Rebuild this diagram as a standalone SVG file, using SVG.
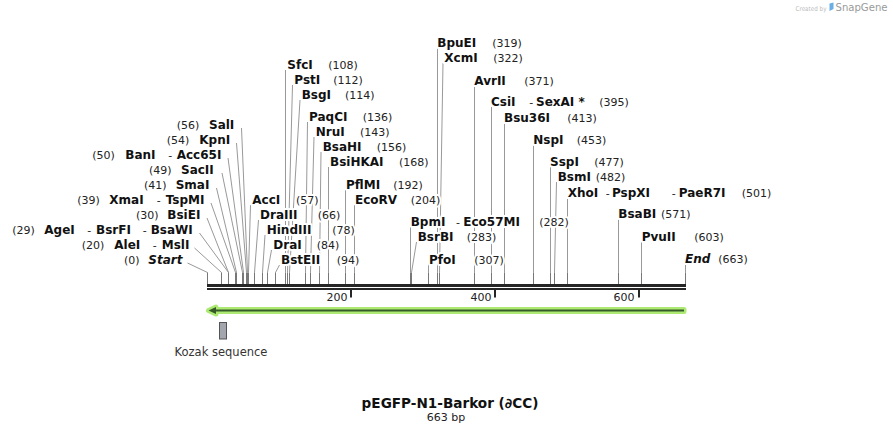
<svg xmlns="http://www.w3.org/2000/svg" width="893" height="434" viewBox="0 0 893 434">
<style>
text{font-family:"DejaVu Sans",Verdana,sans-serif}
.l{paint-order:stroke;stroke:#fff;stroke-width:4px;stroke-linejoin:round}
.b{font-weight:bold;font-size:12px;fill:#111}
.i{font-weight:bold;font-style:italic;font-size:12px;fill:#111}
.n{font-size:11px;fill:#222}
.c{fill:none;stroke:#999;stroke-width:1}
.t{fill:none;stroke:#777;stroke-width:1}
.bar{fill:#262626}
.tk{fill:#262626}
.rl{font-size:11px;fill:#222;text-anchor:end}
</style>
<rect width="893" height="434" fill="#fff"/>

<g id="connectors">
<path class="c" d="M241.5,128L247.5,272.5M236.5,143L246.5,272.5M228,158L243.5,272.5M222,173L242.5,272.5M216.5,188L236.5,272.5M211,203L235.5,272.5M207,218L228.5,272.5M199.5,233L228.5,272.5M194.5,248L221.5,272.5M187.5,263L207.5,272.5"/>
<path class="c" d="M250.5,205L248.5,272.5M258.5,220L254.5,272.5M265,235L262.5,272.5M271.5,250L267.5,272.5M279.5,265L275.5,272.5M285.5,70V272.5M292.5,85L287.5,272.5M300,100L289.5,272.5M307.5,122L305.5,272.5M314,137L310.5,272.5M321,152L319.5,272.5M328.5,167V272.5M345.5,190V272.5M354.5,205V272.5"/>
<path class="c" d="M410.5,227V272.5M416.5,242L411.5,272.5M428.5,264.5V272.5M437.5,48V272.5M443,63L439.5,272.5M474.5,86V272.5M491.5,107V272.5M504.5,122.5V272.5M533.5,145V272.5M550.5,167V272.5M556.5,182L554.5,272.5M567.5,197.5V272.5M618.5,218.5V272.5M641.5,242V272.5M685.5,263.5V272.5"/>
<path class="t" d="M207.5,272.5V284M221.5,272.5V284M228.5,272.5V284M235.5,272.5V284M236.5,272.5V284M242.5,272.5V284M243.5,272.5V284M246.5,272.5V284M247.5,272.5V284M248.5,272.5V284M254.5,272.5V284M262.5,272.5V284M267.5,272.5V284M275.5,272.5V284M285.5,272.5V284M287.5,272.5V284M289.5,272.5V284M305.5,272.5V284M310.5,272.5V284M319.5,272.5V284M328.5,272.5V284M345.5,272.5V284M354.5,272.5V284M410.5,272.5V284M411.5,272.5V284M428.5,272.5V284M437.5,272.5V284M439.5,272.5V284M474.5,272.5V284M491.5,272.5V284M504.5,272.5V284M533.5,272.5V284M550.5,272.5V284M554.5,272.5V284M567.5,272.5V284M618.5,272.5V284M641.5,272.5V284M685.5,272.5V284"/>
</g>

<g id="sequence">
<rect class="bar" x="207" y="284" width="479" height="3"/>
<rect class="bar" x="207" y="288" width="479" height="2"/>
<rect class="tk" x="350" y="290" width="2" height="7.5"/>
<rect class="tk" x="494" y="290" width="2" height="7.5"/>
<rect class="tk" x="638" y="290" width="2" height="7.5"/>
<text class="rl" x="347.5" y="301">200</text>
<text class="rl" x="491.5" y="301">400</text>
<text class="rl" x="634.5" y="301">600</text>
</g>

<g id="site-SalI"><text class="l" y="129"><tspan class="n" x="176.7">(56)</tspan><tspan class="b" x="209">SalI</tspan></text></g>
<g id="site-KpnI"><text class="l" y="144"><tspan class="n" x="166.7">(54)</tspan><tspan class="b" x="199.3">KpnI</tspan></text></g>
<g id="site-BanI"><text class="l" y="159"><tspan class="n" x="92.3">(50)</tspan><tspan class="b" x="125.3">BanI</tspan><tspan class="n" x="168.3">-</tspan><tspan class="b" x="176.7">Acc65I</tspan></text></g>
<g id="site-SacII"><text class="l" y="174"><tspan class="n" x="149">(49)</tspan><tspan class="b" x="181">SacII</tspan></text></g>
<g id="site-SmaI"><text class="l" y="189"><tspan class="n" x="144">(41)</tspan><tspan class="b" x="175.7">SmaI</tspan></text></g>
<g id="site-XmaI"><text class="l" y="204"><tspan class="n" x="77.3">(39)</tspan><tspan class="b" x="109.3">XmaI</tspan><tspan class="n" x="156.7">-</tspan><tspan class="b" x="165.7">TspMI</tspan></text></g>
<g id="site-BsiEI"><text class="l" y="219"><tspan class="n" x="136">(30)</tspan><tspan class="b" x="167.3">BsiEI</tspan></text></g>
<g id="site-AgeI"><text class="l" y="234"><tspan class="n" x="12.3">(29)</tspan><tspan class="b" x="44.3">AgeI</tspan><tspan class="n" x="87.3">-</tspan><tspan class="b" x="96">BsrFI</tspan><tspan class="n" x="142.7">-</tspan><tspan class="b" x="150.7">BsaWI</tspan></text></g>
<g id="site-AleI"><text class="l" y="249"><tspan class="n" x="81.7">(20)</tspan><tspan class="b" x="114.3">AleI</tspan><tspan class="n" x="152.7">-</tspan><tspan class="b" x="161.7">MslI</tspan></text></g>
<g id="site-Start"><text class="l" y="264"><tspan class="n" x="124">(0)</tspan><tspan class="i" x="148.3">Start</tspan></text></g>

<g id="site-AccI"><text class="l" y="204"><tspan class="b" x="252.3">AccI</tspan><tspan class="n" x="296">(57)</tspan></text></g>
<g id="site-DraIII"><text class="l" y="219"><tspan class="b" x="260">DraIII</tspan><tspan class="n" x="317.7">(66)</tspan></text></g>
<g id="site-HindIII"><text class="l" y="234"><tspan class="b" x="266.7">HindIII</tspan><tspan class="n" x="332.3">(78)</tspan></text></g>
<g id="site-DraI"><text class="l" y="249"><tspan class="b" x="273.3">DraI</tspan><tspan class="n" x="316.7">(84)</tspan></text></g>
<g id="site-BstEII"><text class="l" y="264"><tspan class="b" x="281">BstEII</tspan><tspan class="n" x="336.7">(94)</tspan></text></g>
<g id="site-SfcI"><text class="l" y="69"><tspan class="b" x="287.3">SfcI</tspan><tspan class="n" x="328.3">(108)</tspan></text></g>
<g id="site-PstI"><text class="l" y="84"><tspan class="b" x="294.3">PstI</tspan><tspan class="n" x="333.3">(112)</tspan></text></g>
<g id="site-BsgI"><text class="l" y="99"><tspan class="b" x="301.7">BsgI</tspan><tspan class="n" x="345">(114)</tspan></text></g>
<g id="site-PaqCI"><text class="l" y="121"><tspan class="b" x="309">PaqCI</tspan><tspan class="n" x="362.7">(136)</tspan></text></g>
<g id="site-NruI"><text class="l" y="136"><tspan class="b" x="315.7">NruI</tspan><tspan class="n" x="360">(143)</tspan></text></g>
<g id="site-BsaHI"><text class="l" y="151"><tspan class="b" x="322.7">BsaHI</tspan><tspan class="n" x="376.7">(156)</tspan></text></g>
<g id="site-BsiHKAI"><text class="l" y="166"><tspan class="b" x="330">BsiHKAI</tspan><tspan class="n" x="399">(168)</tspan></text></g>
<g id="site-PflMI"><text class="l" y="189"><tspan class="b" x="346">PflMI</tspan><tspan class="n" x="393.3">(192)</tspan></text></g>
<g id="site-EcoRV"><text class="l" y="204"><tspan class="b" x="355">EcoRV</tspan><tspan class="n" x="410.7">(204)</tspan></text></g>

<g id="site-BpmI"><text class="l" y="226"><tspan class="b" x="410.7">BpmI</tspan><tspan class="n" x="456">-</tspan><tspan class="b" x="463.3">Eco57MI</tspan><tspan class="n" x="539.3">(282)</tspan></text></g>
<g id="site-BsrBI"><text class="l" y="241"><tspan class="b" x="417.7">BsrBI</tspan><tspan class="n" x="466.7">(283)</tspan></text></g>
<g id="site-PfoI"><text class="l" y="263.5"><tspan class="b" x="429">PfoI</tspan><tspan class="n" x="474.3">(307)</tspan></text></g>
<g id="site-BpuEI"><text class="l" y="47"><tspan class="b" x="437.3">BpuEI</tspan><tspan class="n" x="492.3">(319)</tspan></text></g>
<g id="site-XcmI"><text class="l" y="61.5"><tspan class="b" x="444.3">XcmI</tspan><tspan class="n" x="493.3">(322)</tspan></text></g>
<g id="site-AvrII"><text class="l" y="85"><tspan class="b" x="474.3">AvrII</tspan><tspan class="n" x="524.3">(371)</tspan></text></g>
<g id="site-CsiI"><text class="l" y="106"><tspan class="b" x="491">CsiI</tspan><tspan class="n" x="529.3">-</tspan><tspan class="b" x="536">SexAI *</tspan><tspan class="n" x="599.3">(395)</tspan></text></g>
<g id="site-Bsu36I"><text class="l" y="121.5"><tspan class="b" x="504">Bsu36I</tspan><tspan class="n" x="567.3">(413)</tspan></text></g>
<g id="site-NspI"><text class="l" y="144"><tspan class="b" x="533.3">NspI</tspan><tspan class="n" x="576.7">(453)</tspan></text></g>
<g id="site-SspI"><text class="l" y="166"><tspan class="b" x="550">SspI</tspan><tspan class="n" x="594.3">(477)</tspan></text></g>
<g id="site-BsmI"><text class="l" y="181"><tspan class="b" x="557.7">BsmI</tspan><tspan class="n" x="595.7">(482)</tspan></text></g>
<g id="site-XhoI"><text class="l" y="196.5"><tspan class="b" x="567.7">XhoI</tspan><tspan class="n" x="605.7">-</tspan><tspan class="b" x="612">PspXI</tspan><tspan class="n" x="671.7">-</tspan><tspan class="b" x="678.7">PaeR7I</tspan><tspan class="n" x="741.7">(501)</tspan></text></g>
<g id="site-BsaBI"><text class="l" y="217.5"><tspan class="b" x="618.3">BsaBI</tspan><tspan class="n" x="661">(571)</tspan></text></g>
<g id="site-PvuII"><text class="l" y="241"><tspan class="b" x="641.7">PvuII</tspan><tspan class="n" x="694.3">(603)</tspan></text></g>
<g id="site-End"><text class="l" y="262.5"><tspan class="i" x="685">End</tspan><tspan class="n" x="718.3">(663)</tspan></text></g>

<g id="feature-arrow">
<path d="M208.5,310.5L216,307L216,309.5L684,309.5L684,311.5L216,311.5L216,314Z" fill="#365a27" stroke="#acea74" stroke-width="5" stroke-linejoin="round" paint-order="stroke"/>
</g>

<g id="feature-kozak">
<rect x="219.5" y="322.5" width="7" height="16.5" fill="#a3a6ad" stroke="#555" stroke-width="1"/>
<text x="221" y="355.5" text-anchor="middle" font-size="11.5" fill="#333">Kozak sequence</text>
</g>

<g id="title">
<text x="450" y="408" text-anchor="middle" font-size="13.6" font-weight="bold" fill="#111">pEGFP-N1-Barkor (∂CC)</text>
<text x="446" y="421" text-anchor="middle" font-size="11" fill="#222">663 bp</text>
</g>

<g id="credit">
<text x="795.5" y="10.5" font-family="Liberation Sans, Arial, sans-serif" font-size="6.5" fill="#bbb" textLength="31" lengthAdjust="spacingAndGlyphs">Created by</text>
<path d="M829.5,3.5L833.5,2.5L833.5,9L829.5,11Z" fill="#6aaee6"/>
<text x="835.5" y="11" font-family="Liberation Sans, Arial, sans-serif" font-size="11" fill="#9a9a9a" textLength="52" lengthAdjust="spacingAndGlyphs">SnapGene</text>
</g>
</svg>
